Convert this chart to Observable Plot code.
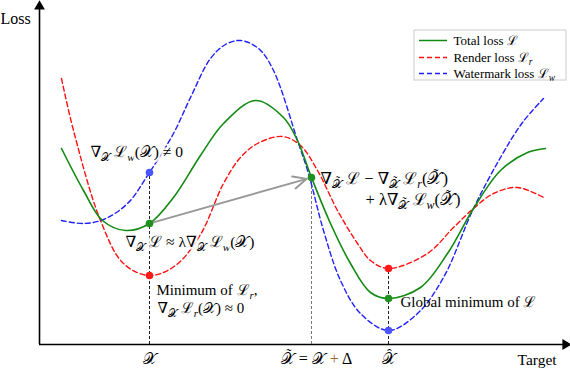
<!DOCTYPE html>
<html>
<head>
<meta charset="utf-8">
<script src="https://cdn.jsdelivr.net/npm/d3@7"></script>
<script src="https://cdn.jsdelivr.net/npm/@observablehq/plot@0.6"></script>
<style>
  html, body { margin: 0; padding: 0; background: #fff; }
  #chart svg { display: block; }
</style>
</head>
<body>
<div id="chart"></div>
<script>
// ---- data (target on x, loss on y; axes meet at 0,0) ----
const totalT    = [22, 44, 63, 86, 110, 134, 161, 184, 216, 244, 258, 272, 291, 311, 331, 349, 381, 408, 434, 461, 488, 506];
const totalLoss = [196, 154, 124, 114, 121, 147, 189, 221, 244, 227, 204, 167, 121, 81, 52, 46, 57, 91, 136, 174, 192, 196];

const renderT    = [22, 34, 61, 84, 110, 136, 161, 184, 201, 218, 243, 261, 278, 298, 318, 331, 349, 388, 414, 434, 454, 478, 506];
const renderLoss = [266, 214, 124, 81, 69, 79, 110, 161, 187, 201, 208, 199, 174, 134, 101, 84, 76, 91, 117, 136, 151, 157, 146];

const wmT    = [22, 44, 64, 88, 110, 134, 151, 171, 186, 201, 219, 234, 258, 269, 284, 301, 321, 349, 378, 404, 434, 461, 483, 504];
const wmLoss = [124, 121, 125, 141, 172, 211, 247, 286, 300, 304, 296, 274, 204, 171, 114, 64, 31, 14, 31, 67, 136, 187, 222, 246];

// marked points
const pointT      = [110, 110, 110, 272, 349, 349, 349];
const pointLoss   = [172, 121, 69, 167, 76, 46, 14];
const pointSeries = ["w", "t", "r", "t", "r", "t", "w"];

// vertical dashed drops
const dropT     = [110, 272, 349];
const dropTop   = [172, 167, 76];
const dropColor = ["#222", "#777", "#222"];

// gradient arrow
const arrowFrom = [110, 121];
const arrowTo   = [272, 167];

// tick labels on the target axis
const tickT     = [110, 277, 349];
const tickLabel = ["𝒳", "~{𝒳} = 𝒳 #{+} Δ", "^{𝒳}"];

// annotations
const noteT    = [51, 86, 117, 118, 281, 326, 361];
const noteLoss = [192, 102, 54, 36, 166, 145, 42];
const noteSize = [15.5, 15.5, 15, 15, 16.5, 16.5, 15];
const noteText = [
  "∇_{𝒳} ℒ_{w}(𝒳) ≠ 0",
  "∇_{𝒳} ℒ ≈ λ∇_{𝒳} ℒ_{w}(𝒳)",
  "Minimum of ℒ_{r},",
  "∇_{𝒳} ℒ_{r}(𝒳) ≈ 0",
  "∇_{~{𝒳}} ℒ − ∇_{~{𝒳}} ℒ_{r}(~{𝒳})",
  "+ λ∇_{~{𝒳}} ℒ_{w}(~{𝒳})",
  "Global minimum of ℒ"
];
const noteHalo = [true, true, false, false, false, false, false];

// legend
const legendNames  = ["Total loss ℒ", "Render loss ℒ_{r}", "Watermark loss ℒ_{w}"];
const legendColors = ["#138a13", "#ff1010", "#2020ff"];
const legendDash   = [null, "5,3", "5,3"];
const legendLoss   = [304, 287, 271];

const colorOf    = {t: "#138a13", r: "#ff1010", w: "#2020ff"};
const dotColorOf = {t: "#1f8f1f", r: "#ff1a1a", w: "#4a55ff"};

// ---- build tables ----
const total  = totalT.map((t, i) => ({t, loss: totalLoss[i]}));
const render = renderT.map((t, i) => ({t, loss: renderLoss[i]}));
const wm     = wmT.map((t, i) => ({t, loss: wmLoss[i]}));
const points = pointT.map((t, i) => ({t, loss: pointLoss[i], s: pointSeries[i]}));
const drops  = dropT.map((t, i) => ({t, top: dropTop[i], c: dropColor[i]}));
const ticks  = tickT.map((t, i) => ({t, label: tickLabel[i]}));
const notes  = noteT.map((t, i) => ({t, loss: noteLoss[i], size: noteSize[i], text: noteText[i], halo: noteHalo[i]}));
const legend = legendNames.map((name, i) => ({name, color: legendColors[i], dash: legendDash[i], loss: legendLoss[i]}));

const font = "'Liberation Serif', 'DejaVu Serif', serif";

const marks = [
  // axes
  Plot.ruleY([0], {x1: 0, x2: 524, stroke: "#000", strokeWidth: 1.6}),
  Plot.ruleX([0], {y1: 0, y2: 336, stroke: "#000", strokeWidth: 1.6}),
  Plot.dot([{t: 526, loss: 0}], {x: "t", y: "loss", symbol: "triangle", r: 4, fill: "#000", rotate: 90}),
  Plot.dot([{t: 0, loss: 338}], {x: "t", y: "loss", symbol: "triangle", r: 4, fill: "#000"}),
  // drops
  ...drops.map(d => Plot.ruleX([d], {x: "t", y1: 0, y2: "top", stroke: d.c, strokeWidth: 1, strokeDasharray: "3,2"})),
  // curves
  Plot.line(render, {x: "t", y: "loss", curve: "catmull-rom", stroke: colorOf.r, strokeWidth: 1.4, strokeDasharray: "5,3"}),
  Plot.line(wm, {x: "t", y: "loss", curve: "catmull-rom", stroke: colorOf.w, strokeWidth: 1.4, strokeDasharray: "5,3"}),
  Plot.line(total, {x: "t", y: "loss", curve: "catmull-rom", stroke: colorOf.t, strokeWidth: 1.6}),
  // gradient arrow
  Plot.arrow([{x1: arrowFrom[0], y1: arrowFrom[1], x2: arrowTo[0], y2: arrowTo[1]}],
    {x1: "x1", y1: "y1", x2: "x2", y2: "y2", stroke: "#999", strokeWidth: 2, headLength: 11, headAngle: 50, insetStart: 4, insetEnd: 5, bend: 0}),
  // points
  Plot.dot(points, {x: "t", y: "loss", r: 3.8, fill: d => dotColorOf[d.s], stroke: "none"}),
  // tick labels
  Plot.text(ticks, {x: "t", y: -14, text: "label", fontSize: 16, fontFamily: font, fill: "#000"}),
  // axis titles
  Plot.text(["Target"], {x: 478, y: -16, text: d => d, textAnchor: "start", fontSize: 15.5, fontFamily: font, fill: "#000"}),
  Plot.text(["Loss"], {x: -39, y: 326, text: d => d, textAnchor: "start", fontSize: 16, fontFamily: font, fill: "#000"}),
  // notes
  Plot.text(notes.filter(d => d.halo), {x: "t", y: "loss", text: "text", fontSize: "size", textAnchor: "start", fontFamily: font, fill: "#000", stroke: "white", strokeWidth: 5, strokeOpacity: 0.85}),
  Plot.text(notes.filter(d => !d.halo), {x: "t", y: "loss", text: "text", fontSize: "size", textAnchor: "start", fontFamily: font, fill: "#000"}),
  // legend
  Plot.rect([{x1: 375, x2: 527, y1: 264, y2: 314}], {x1: "x1", x2: "x2", y1: "y1", y2: "y2", fill: "white", stroke: "#ccc", strokeWidth: 1}),
  ...legend.map(d => Plot.ruleY([d], {y: "loss", x1: 380, x2: 408, stroke: d.color, strokeWidth: 1.5, strokeDasharray: d.dash})),
  Plot.text(legend, {x: 414, y: "loss", text: "name", textAnchor: "start", fontSize: 13, fontFamily: font, fill: "#000"})
];

const chart = Plot.plot({
  width: 570,
  height: 368,
  margin: 0,
  x: {domain: [-39, 531], axis: null},
  y: {domain: [-24, 344], axis: null},
  style: {background: "#fff", fontFamily: font},
  marks
});

document.getElementById("chart").appendChild(chart);

// ---- convert light markup into tspans: _{..} subscript, ~{..} tilde, ^{..} hat, #{..} brown ----
const NS = "http://www.w3.org/2000/svg";
const tokenRe = /(_\{[~^]\{[^}]*\}\}|_\{[^}]*\}|[~^]\{[^}]*\}|#\{[^}]*\})/;
chart.querySelectorAll("text").forEach(el => {
  const s = el.textContent;
  if (!tokenRe.test(s)) return;
  const fs = parseFloat(getComputedStyle(el).fontSize) || 14;
  const subShift = fs * 0.25;
  const parts = s.split(tokenRe).filter(p => p.length);
  el.textContent = "";
  let cur = 0;
  const fixes = [];
  let pendingFix = null;
  const add = (text, opts) => {
    const ts = document.createElementNS(NS, "tspan");
    ts.textContent = text;
    const want = opts.shift || 0;
    if (want !== cur) ts.setAttribute("dy", want - cur);
    cur = want;
    if (opts.size) ts.setAttribute("font-size", opts.size);
    if (opts.italic) ts.setAttribute("font-style", "italic");
    if (opts.fill) ts.setAttribute("fill", opts.fill);
    if (pendingFix) { pendingFix.next = ts; pendingFix = null; }
    el.appendChild(ts);
    return ts;
  };
  const addAccent = (base, mark, sub) => {
    const size = sub ? "0.72em" : null;
    const shift = sub ? subShift : 0;
    const b = add(base, {shift, size});
    const raise = sub ? fs * 0.2 : fs * 0.3;
    const a = add(mark, {shift: shift - raise, size: sub ? "0.72em" : "0.9em"});
    const fix = {b, a, next: null};
    fixes.push(fix);
    pendingFix = fix;
  };
  for (const p of parts) {
    let m;
    if ((m = p.match(/^_\{([~^])\{([^}]*)\}\}$/))) {
      addAccent(m[2], m[1] === "~" ? "˜" : "ˆ", true);
    } else if ((m = p.match(/^_\{([^}]*)\}$/))) {
      add(m[1], {shift: subShift, size: "0.72em", italic: /^[a-z]+$/.test(m[1])});
    } else if ((m = p.match(/^([~^])\{([^}]*)\}$/))) {
      addAccent(m[2], m[1] === "~" ? "˜" : "ˆ", false);
    } else if ((m = p.match(/^#\{([^}]*)\}$/))) {
      add(m[1], {fill: "#9a6a2a"});
    } else {
      add(p, {});
    }
  }
  for (const f of fixes) {
    const bw = f.b.getComputedTextLength();
    const aw = f.a.getComputedTextLength();
    f.a.setAttribute("dx", -(bw / 2 + aw / 2) + 1);
    if (f.next) f.next.setAttribute("dx", bw / 2 - aw / 2 - 1);
  }
});
</script>
</body>
</html>
